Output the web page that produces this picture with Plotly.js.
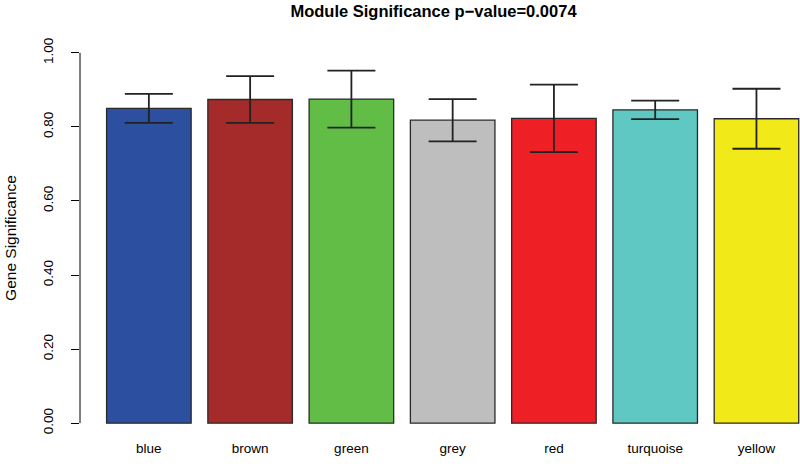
<!DOCTYPE html>
<html>
<head>
<meta charset="utf-8">
<script src="https://cdn.plot.ly/plotly-3.0.1.min.js"></script>
<style>html,body{margin:0;padding:0;background:#fff;}#chart{width:800px;height:466px;}</style>
</head>
<body>
<div id="chart"></div>
<script>
const modules = ["blue", "brown", "green", "grey", "red", "turquoise", "yellow"];
const geneSignificance = [0.850, 0.874, 0.875, 0.818, 0.823, 0.846, 0.822];
const errorSize = [0.039, 0.063, 0.077, 0.057, 0.091, 0.025, 0.081];
const barColors = ["#2d4fa0", "#a52a2a", "#62bd47", "#bebebe", "#ee1f25", "#5fc8c3", "#f2ea18"];
const yTicks = [0, 0.2, 0.4, 0.6, 0.8, 1.0];

const trace = {
  type: "bar",
  x: modules,
  y: geneSignificance,
  marker: {color: barColors, line: {color: "#2a2a2a", width: 1.3}},
  error_y: {type: "data", array: errorSize, visible: true, color: "#222222", thickness: 1.8, width: 24},
  hoverinfo: "x+y"
};

const layout = {
  width: 800, height: 466,
  margin: {l: 80, r: 0, t: 38, b: 28},
  paper_bgcolor: "#ffffff", plot_bgcolor: "#ffffff",
  font: {family: "Liberation Sans, Arial, sans-serif", color: "#000000"},
  showlegend: false,
  bargap: 0.165,
  title: {
    text: "<b>Module Significance p\u2212value=0.0074</b>",
    font: {size: 16.5, family: "Liberation Sans, Arial, sans-serif", color: "#000"},
    x: 0.491, xref: "paper", xanchor: "center",
    y: 0.975, yref: "container", yanchor: "middle"
  },
  xaxis: {
    range: [-0.68, 6.43],
    showgrid: false, zeroline: false, showline: false,
    ticks: "", tickfont: {size: 13.5},
    ticklabelstandoff: 0,
    fixedrange: true
  },
  yaxis: {
    range: [-0.04, 1.04],
    tickvals: yTicks, tickformat: ".2f",
    showgrid: false, zeroline: false, showline: false,
    ticks: "outside", ticklen: 8, tickcolor: "#000", tickwidth: 1,
    tickangle: -90, tickfont: {size: 13.5},
    ticklabelstandoff: 13,
    title: {text: "Gene Significance", font: {size: 15.5}, standoff: 20},
    fixedrange: true
  },
  shapes: [{
    type: "line", xref: "paper", yref: "y",
    x0: 0, x1: 0, y0: yTicks[0], y1: yTicks[yTicks.length - 1],
    line: {color: "#000", width: 1}
  }]
};

Plotly.newPlot("chart", [trace], layout, {displayModeBar: false, staticPlot: true});
</script>
</body>
</html>
